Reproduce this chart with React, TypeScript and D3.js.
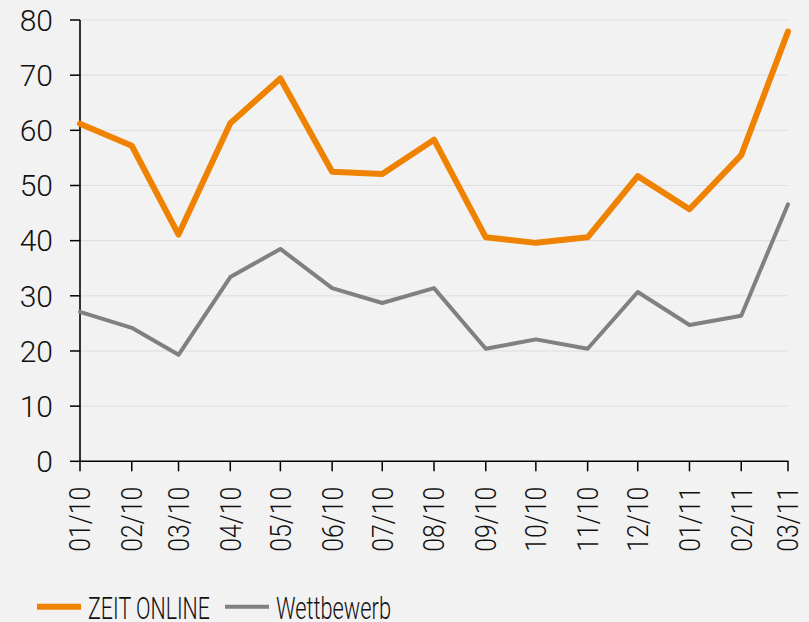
import React from "react";
import * as d3 from "d3";

const months = ["2010-01-01","2010-02-01","2010-03-01","2010-04-01","2010-05-01","2010-06-01","2010-07-01","2010-08-01","2010-09-01","2010-10-01","2010-11-01","2010-12-01","2011-01-01","2011-02-01","2011-03-01"];
const zeitOnline = [61.2, 57.2, 41.1, 61.3, 69.4, 52.5, 52.1, 58.3, 40.6, 39.6, 40.6, 51.7, 45.7, 55.5, 77.9];
const wettbewerb = [27.1, 24.2, 19.3, 33.4, 38.5, 31.4, 28.7, 31.4, 20.4, 22.1, 20.4, 30.7, 24.7, 26.4, 46.6];
const tickLabels = ["01/10","02/10","03/10","04/10","05/10","06/10","07/10","08/10","09/10","10/10","11/10","12/10","01/11","02/11","03/11"];
const yTicks = [0, 10, 20, 30, 40, 50, 60, 70, 80];
const seriesNames = ["ZEIT ONLINE", "Wettbewerb"];

const W = 809, H = 622;
const FONT = "Roboto, 'Liberation Sans', Arial, sans-serif";

export default function App() {
  const parse = d3.timeParse("%Y-%m-%d");
  const dates = months.map((m) => parse(m) as Date);
  const x = d3.scaleTime().domain([dates[0], dates[dates.length - 1]]).range([80, 788]);
  const y = d3.scaleLinear().domain([0, 80]).range([461.3, 20]);
  const line = d3.line<number>().x((_, i) => x(dates[i])).y((d) => y(d));

  return (
    <svg width={W} height={H} style={{ position: "absolute", left: 0, top: 0, background: "#f2f2f2" }}>
      <rect x={0} y={0} width={W} height={H} fill="#f2f2f2" />
      {yTicks.map((t) => (
        <g key={t}>
          {t > 0 && <line x1={80} x2={788} y1={y(t)} y2={y(t)} stroke="#dedede" strokeWidth={1} />}
          <line x1={70} x2={80} y1={y(t)} y2={y(t)} stroke="#000" strokeWidth={1.5} />
          <text x={53} y={y(t)} dy="0.36em" textAnchor="end" fontFamily={FONT} fontWeight={300} fontSize={30} fill="#111">{t}</text>
        </g>
      ))}
      <line x1={80} x2={80} y1={y(80)} y2={y(0)} stroke="#000" strokeWidth={1.6} />
      <line x1={80} x2={788.5} y1={y(0)} y2={y(0)} stroke="#000" strokeWidth={1.6} />
      {dates.map((d, i) => (
        <g key={i} transform={`translate(${x(d)},${y(0)})`}>
          <line x1={0} x2={0} y1={0} y2={10} stroke="#000" strokeWidth={1.5} />
          <text transform="rotate(-90)" x={-25.5} y={0} dy="0.36em" textAnchor="end" fontFamily={FONT} fontWeight={300} fontSize={29} fill="#111" textLength={65} lengthAdjust="spacingAndGlyphs">{tickLabels[i]}</text>
        </g>
      ))}
      <path d={line(wettbewerb) || ""} fill="none" stroke="#808080" strokeWidth={4} strokeLinejoin="round" strokeLinecap="round" />
      <path d={line(zeitOnline) || ""} fill="none" stroke="#ef8200" strokeWidth={6} strokeLinejoin="round" strokeLinecap="round" />
      <g>
        <line x1={37} x2={81} y1={606.7} y2={606.7} stroke="#ef8200" strokeWidth={6} />
        <text x={88} y={619} fontFamily={FONT} fontWeight={300} fontSize={31} fill="#111" textLength={122} lengthAdjust="spacingAndGlyphs">{seriesNames[0]}</text>
        <line x1={225} x2={269} y1={606.7} y2={606.7} stroke="#808080" strokeWidth={4} />
        <text x={276} y={619} fontFamily={FONT} fontWeight={300} fontSize={31} fill="#111" textLength={115} lengthAdjust="spacingAndGlyphs">{seriesNames[1]}</text>
      </g>
    </svg>
  );
}
